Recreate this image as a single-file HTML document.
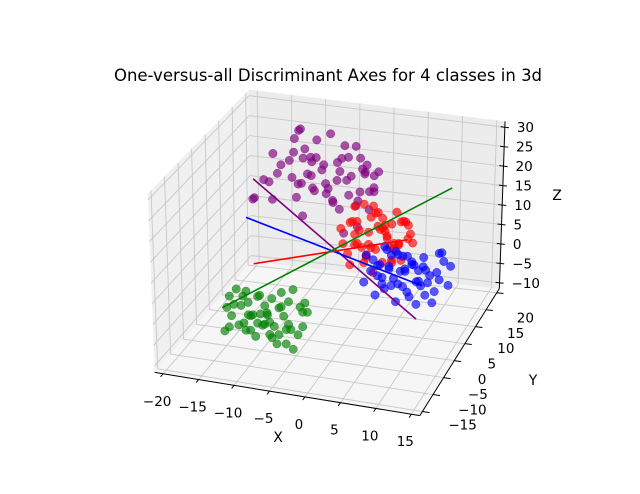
<!DOCTYPE html>
<html><head><meta charset="utf-8"><style>
html,body{margin:0;padding:0;background:#fff}
svg{display:block;font-family:"DejaVu Sans","Liberation Sans",sans-serif}
</style></head><body>
<svg id="c" width="640" height="494" viewBox="0 0 640 494">
<text x="328" y="81" text-anchor="middle" font-size="16.5" fill="#000">One-versus-all Discriminant Axes for 4 classes in 3d</text>
<g id="panes"></g>
<g id="grid"></g>
<g id="axes"></g>
<g id="pts"></g>
<g id="lines"></g>
<text x="278" y="442" text-anchor="middle" font-size="14">X</text>
<text x="533" y="385" text-anchor="middle" font-size="14">Y</text>
<text x="557" y="200" text-anchor="middle" font-size="14">Z</text>
</svg>
<script>
const xTicks=[-20,-15,-10,-5,0,5,10,15];
const yTicks=[-15,-10,-5,0,5,10,15,20];
const zTicks=[-10,-5,0,5,10,15,20,25,30];
const classNames=['purple','red','blue','green'];
const classColors=['#800080','#ff0000','#0000ff','#008000'];
const purplePts=[[-15,14,22],[-12,16,27],[-10,13,25],[-7,15,28],[-4,17,24],[-2,14,21],[-1,16,18],[-5,12,19],[-8,15,20],[-11,18,19],[-14,13,18],[-16,15,14],[-17,12,12],[-13,16,15],[-9,14,14],[-6,13,13],[-3,15,12],[-1,16,15],[-1,14,11],[-2,12,8],[-4,17,9],[-7,16,10],[-10,12,9],[-12,15,11],[-15,17,17],[-18,14,10],[-6,18,23],[-3,11,26],[-8,12,24],[-11,14,29],[-13,17,24],[-5,16,16],[-9,17,17],[-2,15,19],[-1,13,23],[-7,13,17],[-4,14,14],[-10,16,13],[-14,11,13],[-1,16,14],[-3,18,17],[-8,10,21],
[-12,14,23],[-11,15,21],[-9,13,22],[-13,15,20],[-6,15,21],[-5,14,23],[-3,16,22],[-7,14,15],[-8,16,12],[-5,13,11],[-2,17,13],[-11,13,16],[-12,17,13],[-16,13,16],[-9,15,26],[-4,15,18],[-6,16,18],[-10,14,18],[0,15,20],[-2,13,16],[-4,12,6]];
const redPts=[[-2,5,13],[0,4,16],[1,6,19],[3,5,18],[5,3,17],[7,6,16],[8,5,14],[6,4,12],[4,7,11],[2,5,10],[0,6,9],[-1,3,11],[1,4,14],[3,6,14],[5,5,10],[7,4,8],[8,6,11],[6,7,15],[2,3,7],[4,5,6],[1,7,5],[3,4,4],[5,6,6],[0,5,19],[2,6,16],[4,3,20],[6,5,19],[-1,5,7],[3,8,12],[7,3,13],[1,2,12],[5,7,8],[8,4,17],[2,4,8],[4,6,13],
[0,5,12],[1,5,9],[2,5,13],[3,5,9],[4,4,15],[5,4,13],[6,6,10],[7,5,17],[-1,6,14],[1,3,17],[3,3,11],[5,6,15],[6,3,8],[2,7,18],[4,5,17],[0,3,6],[7,7,11]];
const bluePts=[[0,10,3],[1,9,0],[2,11,-3],[3,10,5],[4,8,2],[5,12,-1],[6,10,-5],[7,9,3],[8,11,1],[9,10,-2],[10,12,4],[11,9,0],[10,10,-4],[8,8,-6],[6,12,1],[4,10,-2],[2,8,-5],[3,12,2],[5,9,5],[7,11,-3],[9,8,6],[11,11,3],[1,12,-1],[0,9,-3],[6,8,-2],[8,12,-7],[4,11,4],[10,9,-6],[5,10,0],[7,10,2],[3,9,-4],[9,11,-1],[2,10,1],[6,11,-7],[11,10,6],
[1,10,2],[2,9,-1],[3,11,0],[4,9,-3],[5,11,3],[6,9,1],[7,12,-1],[8,10,-3],[9,9,2],[10,11,0],[4,12,-5],[2,12,4],[6,10,4],[8,9,-1],[12,10,-2],[12,11,2],[3,8,-2],[5,8,-6]];
const greenPts=[[-13,-10,2],[-12,-9,6],[-11,-11,-1],[-10,-10,4],[-9,-8,0],[-8,-11,7],[-7,-10,-3],[-6,-9,3],[-5,-11,5],[-4,-10,-1],[-3,-8,2],[-2,-10,6],[-3,-12,-4],[-5,-9,-2],[-7,-12,1],[-9,-10,-4],[-11,-9,-2],[-13,-11,-3],[-12,-10,3],[-10,-12,7],[-8,-9,3],[-6,-11,0],[-4,-9,8],[-2,-11,1],[-6,-10,-5],[-9,-11,2],[-11,-8,5],[-7,-9,5],[-5,-10,2],[-8,-10,-1],[-10,-9,0],[-4,-12,-3],[-12,-12,-1],[-3,-9,4],[-6,-8,6],
[-12,-11,1],[-11,-10,3],[-10,-11,-2],[-9,-9,5],[-8,-12,1],[-7,-11,3],[-6,-12,-2],[-5,-8,4],[-4,-11,1],[-3,-10,-2],[-8,-8,0],[-10,-10,1],[-7,-10,0],[-5,-12,-1],[-9,-12,-1],[-13,-9,4],[-2,-9,3]];
const purpleLine=[[-14.5,5,22.3],[9.0,5,-7]];
const blueLine=[[-15.6,5,12.5],[9.8,5,1.5]];
const redLine=[[-14.6,5,1.3],[7.6,5,12.5]];
const greenLine=[[-19.3,5,-10.6],[13.8,5,27]];

const C={'000':[166,364],'100':[414,404],'110':[489,286],'010':[256,260],
'001':[160,198],'101':[417,240],'111':[494,130],'011':[254,100]};
function P(x,y,z){
 const u=(x+20)/35,v=(y+15)/35,w=(z+10)/40;
 const r=[0,0];
 for(const a of [0,1])for(const b of [0,1])for(const c of [0,1]){
  const wt=(a?u:1-u)*(b?v:1-v)*(c?w:1-w);
  const p=C[''+a+b+c];r[0]+=wt*p[0];r[1]+=wt*p[1];}
 return r;}
const NS='http://www.w3.org/2000/svg';
function el(t,a,parent){const e=document.createElementNS(NS,t);for(const k in a)e.setAttribute(k,a[k]);parent.appendChild(e);return e;}
const pts=(arr)=>arr.map(p=>P(...p).map(v=>v.toFixed(1)).join(',')).join(' ');
const X0=-21.2,X1=16.2,Y0=-16.2,Y1=21.2,Z0=-11.5,Z1=31.5;
const panes=document.getElementById('panes');
let e;
e=el('polygon',{points:pts([[X0,Y0,Z0],[X1,Y0,Z0],[X1,Y1,Z0],[X0,Y1,Z0]]),fill:'#f6f6f6'},panes);

e=el('polygon',{points:pts([[X0,Y0,Z0],[X0,Y1,Z0],[X0,Y1,Z1],[X0,Y0,Z1]]),fill:'#f0f0f0'},panes);

e=el('polygon',{points:pts([[X0,Y1,Z0],[X1,Y1,Z0],[X1,Y1,Z1],[X0,Y1,Z1]]),fill:'#ececec'},panes);

const grid=document.getElementById('grid');
function gl(a,b,name){const p=P(...a),q=P(...b);
 const l=el('line',{x1:p[0],y1:p[1],x2:q[0],y2:q[1],stroke:'#c8c8c8','stroke-width':0.9},grid);
 }
xTicks.forEach(x=>{gl([x,Y0,Z0],[x,Y1,Z0],'grid-x');gl([x,Y1,Z0],[x,Y1,Z1],'grid-x');});
yTicks.forEach(y=>{gl([X0,y,Z0],[X1,y,Z0],'grid-y');gl([X0,y,Z0],[X0,y,Z1],'grid-y');});
zTicks.forEach(z=>{gl([X0,Y1,z],[X1,Y1,z],'grid-z');gl([X0,Y0,z],[X0,Y1,z],'grid-z');});
const axes=document.getElementById('axes');
function al(a,b,name){const p=P(...a),q=P(...b);
 const l=el('line',{x1:p[0],y1:p[1],x2:q[0],y2:q[1],stroke:'#000','stroke-width':1},axes);
 }
al([X0,Y0,Z0],[X1,Y0,Z0],'x-axis-line');
al([X1,Y0,Z0],[X1,Y1,Z0],'y-axis-line');
al([X1,Y1,Z0],[X1,Y1,Z1],'z-axis-line');
function txt(x,y,s,anchor,name){const t=el('text',{x:x,y:y,'font-size':13.5,'text-anchor':anchor},axes);
 t.textContent=s;}
const fmt=v=>(v<0?'\u2212'+(-v):''+v);
xTicks.forEach(x=>{const p=P(x,Y0,Z0);
 al([x,Y0,Z0],[x,Y0-1.0,Z0],'x-tick');
 txt(p[0]-6,p[1]+32,fmt(x),'middle','x-tick-label');});
yTicks.forEach(y=>{const p=P(X1,y,Z0);
 al([X1,y,Z0],[X1+1.0,y,Z0],'y-tick');
 const v=(y+15)/35;
 txt(p[0]+26-6*v,p[1]+18+12*v,fmt(y),'start','y-tick-label');});
zTicks.forEach(z=>{const p=P(X1,Y1,z);
 al([X1-0.6,Y1,z],[X1+0.6,Y1,z],'z-tick');
 txt(p[0]+12,p[1]+5,fmt(z),'start','z-tick-label');});
const g=document.getElementById('pts');
const sets=[purplePts,redPts,bluePts,greenPts];
sets.forEach((arr,ci)=>{arr.forEach(p=>{const s=P(...p);
 const c=el('circle',{cx:s[0].toFixed(1),cy:s[1].toFixed(1),r:4.2,fill:classColors[ci],'fill-opacity':0.65,stroke:classColors[ci],'stroke-opacity':0.65,'stroke-width':0.5},g);
 
 });});
const lg=document.getElementById('lines');
[[purpleLine,0],[blueLine,2],[redLine,1],[greenLine,3]].forEach(([ln,ci])=>{
 const a=P(...ln[0]),b=P(...ln[1]);
 const l=el('line',{x1:a[0],y1:a[1],x2:b[0],y2:b[1],stroke:classColors[ci],'stroke-width':1.6},lg);
 
 });
</script>
</body></html>
